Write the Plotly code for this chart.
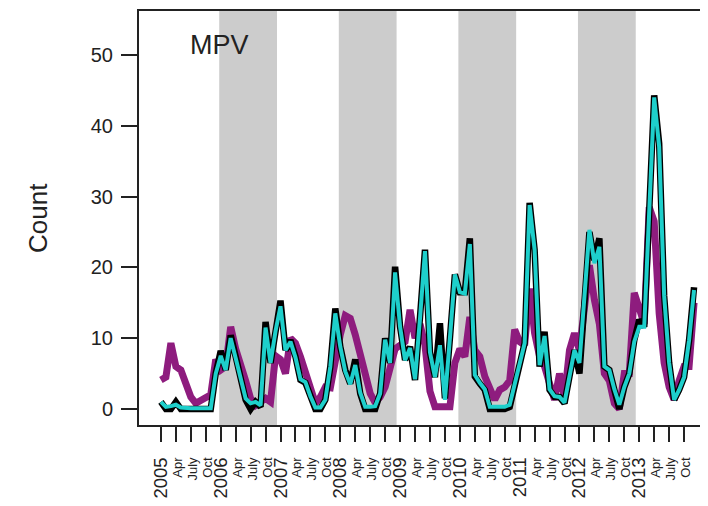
import plotly.graph_objects as go

# ---- data (monthly, Jan 2005 .. Dec 2013) ----
years = [2005, 2006, 2007, 2008, 2009, 2010, 2011, 2012, 2013]
month_tick_names = ["Apr", "July", "Oct"]
shaded_years = [2006, 2008, 2010, 2012]

observed = [1.0, 0, 0, 1.0, 0, 0, 0, 0, 0, 0, 0, 5, 8.2, 5.5, 10.4, 7.4, 4.5, 1.3, 0, 1.0, 0.3, 12.3, 6.5, 11,
            15.3, 8.3, 9.7, 7.4, 4.1, 3.7, 1.7, 0, 0, 1.3, 6, 14.2, 8.8, 5.5, 3.6, 7.0, 2.2, 0, 0, 0, 2.2, 10, 6.5, 20.1,
            11.6, 6.9, 8.8, 4.1, 13, 22.5, 8, 4.5, 12.1, 1.5, 10, 19, 16.5, 16.5, 24.1, 4.6, 3.6, 2.7, 0, 0, 0, 0, 0.3, 3.6,
            6.5, 9.3, 29.1, 22.5, 6, 10.9, 2.7, 1.7, 1.7, 0.8, 4.6, 8.3, 5.0, 16.8, 25.0, 21, 24.1, 6, 5.5, 2.7, 0, 3.1, 5, 9.7,
            12.6, 11.6, 27, 44.3, 37.5, 16, 6.5, 1.3, 2.7, 4.5, 9.7, 17.2]

fitted = [1.0, 0.3, 0.4, 0.6, 0.2, 0.1, 0.1, 0.1, 0.1, 0.1, 0.1, 5, 7.5, 5.5, 10, 7.2, 4.5, 1.5, 0.8, 1.0, 0.5, 11.5, 6.5, 11,
          14.5, 8.3, 9.5, 7.3, 4.2, 3.8, 1.8, 0.2, 0.2, 1.3, 6, 13.5, 8.8, 5.3, 3.5, 6.2, 2.3, 0.3, 0.3, 0.4, 2.2, 9.8, 6.5, 19.3,
          11.6, 6.9, 8.6, 4.2, 12.8, 22.3, 8, 4.5, 9, 1.3, 10, 19, 16.5, 16.3, 23.3, 4.8, 3.7, 2.8, 0.3, 0.3, 0.3, 0.3, 0.6, 3.6,
          6.5, 9.3, 28.8, 22.5, 6.2, 10.3, 2.8, 1.8, 1.7, 0.9, 4.6, 8.3, 6.5, 16.8, 25.3, 20.6, 22.9, 6, 5.5, 2.8, 0.6, 3.1, 5, 9.5,
          11.6, 11.6, 27, 44, 37, 16, 6.5, 1.3, 2.7, 4.5, 9.7, 16.8]

predicted = [4.1, 4.5, 9.3, 6.0, 5.5, 3.2, 1.7, 0.8, 1.2, 1.7, 2.0, 7.0, 5.5, 6.0, 11.6, 8.5, 6.5, 4, 1.5, 0.5, 1.0, 1.5, 1.0, 7.5,
             7.0, 5.0, 10.0, 9.3, 7.4, 5.0, 2.7, 0.8, 1.7, 3.1, 3.0, 7.0, 10.5, 13.2, 12.8, 10.5, 7.4, 4.6, 2.2, 0.9, 1.7, 3.1, 6.0, 8.5,
             9, 9.5, 14, 10, 12, 9, 2.5, 0.3, 0.3, 0.3, 0.3, 6.5, 8.5, 7.4, 13, 8.3, 7.4, 4.6, 2.7, 1.3, 2.7, 3.1, 4, 11.2,
             9.5, 9, 17, 10.7, 7.4, 6, 3.6, 1.3, 5, 1.7, 8.3, 10.7, 8.3, 15.4, 20.3, 15.4, 12, 5, 4, 0.8, 0, 5, 5, 16.4,
             14, 12, 28.5, 26.5, 13.5, 6.5, 3.1, 1.3, 4.0, 6, 6, 15]

months = list(range(len(observed)))

# ---- tick labels ----
tickvals, ticktext = [], []
for i, yr in enumerate(years):
    tickvals.append(12 * i)
    ticktext.append(str(yr))
    for j, name in enumerate(month_tick_names):
        tickvals.append(12 * i + 3 * (j + 1))
        ticktext.append('<span style="font-size:13px">' + name + '</span>')

fig = go.Figure()
fig.add_trace(go.Scatter(x=months, y=predicted, mode="lines",
                         line=dict(color="#8E1C7E", width=7), hoverinfo="skip"))
fig.add_trace(go.Scatter(x=months, y=observed, mode="lines",
                         line=dict(color="black", width=6.5), hoverinfo="skip"))
fig.add_trace(go.Scatter(x=months, y=fitted, mode="lines",
                         line=dict(color="#1ECFCB", width=4), hoverinfo="skip"))

shapes = []
for yr in shaded_years:
    s = 12 * (yr - years[0])
    shapes.append(dict(type="rect", xref="x", yref="paper", x0=s - 0.3, x1=s + 11.3, y0=0, y1=1,
                       fillcolor="#CCCCCC", line=dict(width=0), layer="below"))

# page has an 8px body margin: plot area spans page x 139..708, y 11..425
fig.update_layout(
    width=708, height=506,
    margin=dict(l=131, r=8, t=3, b=89, autoexpand=False),
    paper_bgcolor="white", plot_bgcolor="white",
    showlegend=False,
    shapes=shapes,
    font=dict(family="Liberation Sans, Arial, sans-serif", color="#222222"),
    annotations=[dict(text="MPV", x=5.4, y=51.4, xref="x", yref="y", xanchor="left", yanchor="middle",
                      showarrow=False, font=dict(size=27, color="#222222")),
                 dict(text="Count", x=(38 - 139) / 569, y=0.5, xref="paper", yref="paper", textangle=-90,
                      xanchor="center", yanchor="middle", showarrow=False,
                      font=dict(size=26, color="#222222"))],
)

fig.update_xaxes(range=[-4.4, 109.8], tickvals=tickvals, ticktext=ticktext, tickangle=-90,
                 ticks="outside", ticklen=15, tickwidth=2, tickcolor="#222222",
                 showline=True, linewidth=2, linecolor="#222222", mirror=True, automargin=False,
                 ticklabelstandoff=8,
                 showgrid=False, zeroline=False, tickfont=dict(size=18.5))
fig.update_yaxes(range=[-2.26, 56.2], tickvals=[0, 10, 20, 30, 40, 50],
                 ticks="outside", ticklen=16, tickwidth=2, tickcolor="#222222",
                 showline=True, linewidth=2, linecolor="#222222", automargin=False,
                 ticklabelstandoff=4,
                 showgrid=False, zeroline=False, tickfont=dict(size=20))

fig.write_html("out.html")
